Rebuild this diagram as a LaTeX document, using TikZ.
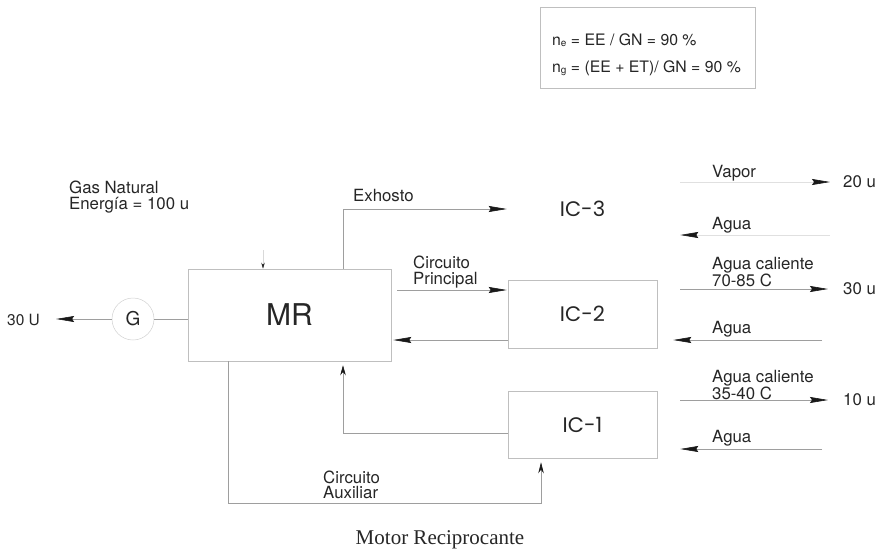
\documentclass[tikz,border=0pt]{standalone}
\usepackage{fontspec}
\setmainfont{TeX Gyre Heros}
\newfontfamily\serifr{Liberation Serif}
\newfontfamily\gothic{Poppins}
\usetikzlibrary{arrows.meta,calc}
\begin{document}
\begin{tikzpicture}[x=1pt,y=-1pt,
  ln/.style={draw=black!38, line width=0.6pt},
  arr/.style={ln, -{Stealth[length=18pt,width=6pt,inset=2pt,color=black!90]}},
  sarr/.style={ln, -{Stealth[length=10pt,width=5.5pt,color=black!90]}},
  lbl/.style={text=black!85, font=\fontsize{16.8}{15.5}\selectfont, inner sep=0pt, align=left, anchor=west},
  box/.style={draw=black!25, line width=0.5pt, inner sep=0pt, text=black!85},
  icbox/.style={box, minimum width=149pt, font=\gothic\fontsize{21}{21}\selectfont}
]
\useasboundingbox (0,0) rectangle (888,554);

% formula box
\node[box, minimum width=215pt, minimum height=81pt] (F) at (647.5,47.5) {};
\node[lbl, font=\fontsize{15.8}{15}\selectfont] (f1) at (552,40) {n\raisebox{-1.5pt}{\fontsize{10}{10}\selectfont e} = EE / GN = 90 \%};
\node[lbl, font=\fontsize{15.8}{15}\selectfont] (f2) at (552,68) {n\raisebox{-1.5pt}{\fontsize{10}{10}\selectfont g} = (EE + ET)/ GN = 90 \%};

% main blocks
\node[box, minimum width=203pt, minimum height=92pt, font=\fontsize{30}{30}\selectfont] (MR) at (289.5,315) {MR};
\node[circle, draw=black!18, line width=0.5pt, minimum size=42pt, inner sep=0pt, text=black!85, font=\fontsize{19}{19}\selectfont] (G) at (133,319) {G};
\node[icbox, draw=none, minimum height=70pt] (IC3) at (582.5,209) {IC-3};
\node[icbox, minimum height=68pt] (IC2) at (582.5,314) {IC-2};
\node[icbox, minimum height=67pt] (IC1) at (582.5,424.5) {IC-1};

% left side
\node[lbl, font=\fontsize{15.5}{15}\selectfont] (t30) at (7,320) {30 U};
\draw[arr, shorten >=16pt] (G.west) -- (t30.east |- G.west);
\draw[ln] (G.east) -- (MR.west |- G.east);

\node[lbl] (gas) at (69,197) {Gas Natural\\Energía = 100 u};
\coordinate (gasin) at (263,250);
\draw[ln, draw=black!15, -{Stealth[length=6pt,width=3.5pt,color=black!85]}] (gasin) -- (gasin |- MR.north);

% exhaust
\coordinate (exh) at (343,208);
\draw[arr, shorten >=1pt] (exh |- MR.north) |- (IC3.west);
\node[lbl] (tex) at (353,195) {Exhosto};

% main circuit
\coordinate (cp1) at (397,290);
\draw[arr, shorten >=1pt] (cp1) -- (cp1 -| IC2.west);
\node[lbl] (tcp) at (413,272) {Circuito\\Principal};
\coordinate (cp2) at (508,340);
\draw[arr, shorten >=2pt] (cp2) -- (cp2 -| MR.east);

% auxiliary circuit
\coordinate (auxL) at (228,503);
\coordinate (auxR) at (541,503);
\draw[sarr, -{Stealth[length=11pt,width=5.5pt,color=black!90]}, shorten >=4pt] (MR.south -| auxL) -- (auxL) -- (auxR) -- (auxR |- IC1.south);
\node[lbl] (taux) at (323,485) {Circuito\\Auxiliar};
\coordinate (ret) at (343,433);
\draw[sarr, shorten >=4pt] (ret -| IC1.west) -- (ret) -- (ret |- MR.south);

% right side outputs
\node[lbl] (t20) at (843,182) {20 u};
\node[lbl] (t30b) at (843,289) {30 u};
\node[lbl] (t10) at (843,400) {10 u};
\coordinate (v1) at (680,182);
\draw[arr, draw=black!12, shorten >=13pt] (v1) -- (t20.west);
\coordinate (v2) at (680,289);
\draw[arr, shorten >=15pt] (v2) -- (t30b.west);
\coordinate (v3) at (680,400);
\draw[arr, shorten >=15pt] (v3) -- (t10.west);

\coordinate (a3) at (830,235);
\draw[arr, draw=black!12, shorten >=23pt] (a3) -- (a3 -| IC3.east);
\coordinate (a2) at (822,340);
\draw[arr, shorten >=16pt] (a2) -- (a2 -| IC2.east);
\coordinate (a1) at (822,449);
\draw[arr, shorten >=23pt] (a1) -- (a1 -| IC1.east);

\node[lbl] (tvap) at (712,173) {Vapor};
\node[lbl] (tag3) at (712,225) {Agua};
\node[lbl] (tac2) at (712,272) {Agua caliente\\70-85 C};
\node[lbl] (tag2) at (712,329) {Agua};
\node[lbl] (tac1) at (712,385) {Agua caliente\\35-40 C};
\node[lbl] (tag1) at (712,438) {Agua};

% caption
\node[text=black!85, inner sep=0pt, font=\serifr\fontsize{21}{21}\selectfont] (cap) at (440,540) {Motor Reciprocante};
\end{tikzpicture}
\end{document}
